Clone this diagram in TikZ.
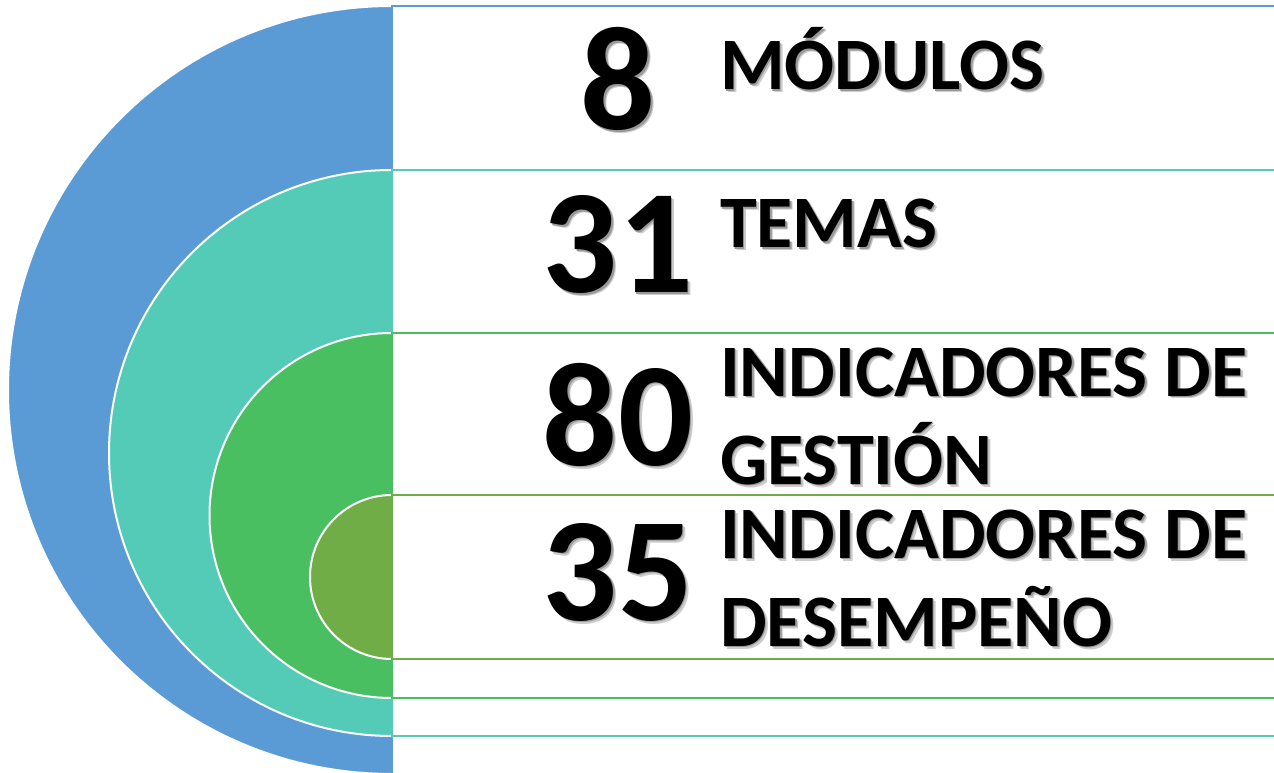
\documentclass[tikz,border=0pt]{standalone}
\usepackage{fontspec}
\setmainfont{Carlito}

\definecolor{bandblue}{HTML}{5B9BD5}
\definecolor{bandteal}{HTML}{53CBB7}
\definecolor{bandgreen}{HTML}{4ABF62}
\definecolor{bandolive}{HTML}{70AD47}

% soft grey shadow behind a line of text
\newcommand{\shtxt}[1]{\rlap{\kern3pt\raisebox{-3pt}{\color{black!20}#1}}\rlap{\kern1.5pt\raisebox{-1.5pt}{\color{black!40}#1}}#1}

\begin{document}
\begin{tikzpicture}[x=1pt, y=1pt,
    % Styles
    band/.style={line width=2pt},
    num/.style={
        anchor=base,
        inner sep=0pt,
        font=\fontsize{148}{148}\selectfont\bfseries
    },
    lbl/.style={
        anchor=base west,
        inner sep=0pt,
        align=left,
        font=\fontsize{74}{88}\selectfont\bfseries
    }
]
\clip (0,0) rectangle (1274,772);

% Nested half discs and their bands
\foreach \ytop/\ybot/\col in {766/-2/bandblue, 602/36/bandteal, 439/74/bandgreen, 277/113/bandolive}{
    \pgfmathsetmacro{\rad}{(\ytop-\ybot)/2}
    \fill[\col, draw=white, band] (392,\ytop) arc[start angle=90, end angle=270, radius=\rad] -- cycle;
    \draw[\col, band] (392,\ytop) rectangle (1300,\ybot);
}

% Numbers
\node[num] (n8) at (618,642) {\shtxt{8}};
\node[num] (n31) at (618,479) {\shtxt{31}};
\node[num] (n80) at (618,307) {\shtxt{80}};
\node[num] (n35) at (618,152) {\shtxt{35}};

% Labels (base = last line)
\node[lbl] (modulos) at (720,682) {\shtxt{MÓDULOS}};
\node[lbl] (temas) at (720,524) {\shtxt{TEMAS}};
\node[lbl] (gestion) at (720,288) {\shtxt{INDICADORES DE}\\\shtxt{GESTIÓN}};
\node[lbl] (desemp) at (720,126) {\shtxt{INDICADORES DE}\\\shtxt{DESEMPEÑO}};

\end{tikzpicture}
\end{document}
